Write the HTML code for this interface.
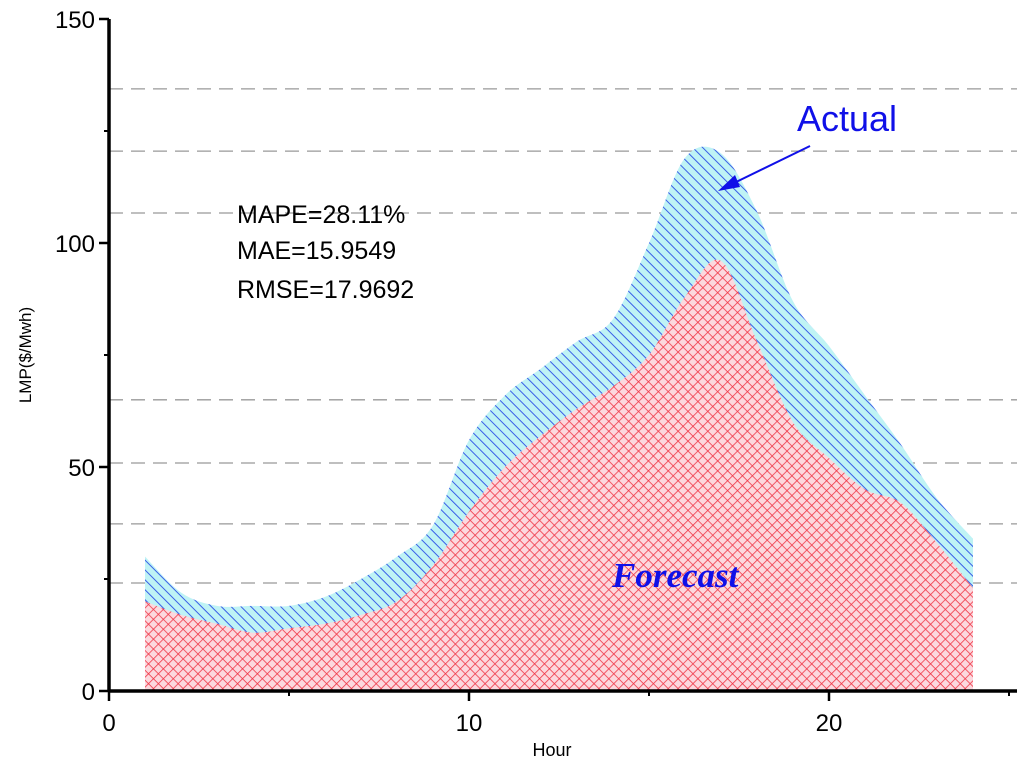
<!DOCTYPE html>
<html><head><meta charset="utf-8"><style>
body{margin:0;background:#fff;}
svg{display:block;font-family:"Liberation Sans",Arial,sans-serif;}
</style></head><body>
<svg id="chart" width="1024" height="766" viewBox="0 0 1024 766">
<defs>
<pattern id="hatchBlue" patternUnits="userSpaceOnUse" width="7" height="7" patternTransform="rotate(-45)">
<rect width="7" height="7" fill="#bff3f5"/>
<line x1="0" y1="0" x2="0" y2="7" stroke="#3a5ee8" stroke-width="2"/>
</pattern>
<pattern id="hatchRed" patternUnits="userSpaceOnUse" width="7" height="7" patternTransform="rotate(45)">
<rect width="7" height="7" fill="#fcd8de"/>
<line x1="0" y1="0" x2="0" y2="7" stroke="#f03848" stroke-width="1.6"/>
<line x1="0" y1="0" x2="7" y2="0" stroke="#f03848" stroke-width="1.6"/>
</pattern>
</defs>
<g id="grid"></g>
<g id="areas"></g>
<g id="axes"></g>
<text x="237" y="223" font-size="25">MAPE=28.11%</text>
<text x="237" y="259" font-size="25">MAE=15.9549</text>
<text x="237" y="298" font-size="25">RMSE=17.9692</text>
<text x="797" y="131" font-size="36" fill="#1010e8">Actual</text>
<line x1="810" y1="146" x2="732" y2="184" stroke="#1010e8" stroke-width="2"/>
<polygon points="718,191 735,175 740,187" fill="#1010e8"/>
<text x="612" y="587" font-size="35" font-weight="bold" font-style="italic" fill="#1010e8" font-family="Liberation Serif, serif">Forecast</text>
<text transform="translate(31,355) rotate(-90)" text-anchor="middle" font-size="17">LMP($/Mwh)</text>
<text x="552" y="756" text-anchor="middle" font-size="18">Hour</text>
</svg>
<script>
const hours=[1,2,3,4,5,6,7,8,9,10,11,12,13,14,15,16,17,18,19,20,21,22,23,24];
const actual=[30,22,19,19,19,21,25,30,37,56,66,72,78,83,100,119,120,107,87,77,66,55,43,34];
const forecast=[20,17,15,13,14,15,17,20,28,40,50,57,63,68,75,88,96,78,60,52,45,42,33,23];
const xTicks=[0,10,20];
const yTicks=[0,50,100,150];
const gridVals=[134.4,120.5,106.7,65,50.9,37.3,24.1];
const NS='http://www.w3.org/2000/svg';
const X0=109,XS=36,Y0=691,YS=4.48,RIGHT=1017;
const sx=v=>X0+v*XS, sy=v=>Y0-v*YS;
function mk(t,a,p){const e=document.createElementNS(NS,t);for(const k in a)e.setAttribute(k,a[k]);p.appendChild(e);return e;}
function smooth(vals){
  const pts=hours.map((h,i)=>[sx(h),sy(vals[i])]);
  let d=`M${pts[0][0]},${pts[0][1]}`;
  for(let i=0;i<pts.length-1;i++){
    const p0=pts[Math.max(0,i-1)],p1=pts[i],p2=pts[i+1],p3=pts[Math.min(pts.length-1,i+2)];
    const c1=[p1[0]+(p2[0]-p0[0])/6,p1[1]+(p2[1]-p0[1])/6];
    const c2=[p2[0]-(p3[0]-p1[0])/6,p2[1]-(p3[1]-p1[1])/6];
    d+=`C${c1[0]},${c1[1]} ${c2[0]},${c2[1]} ${p2[0]},${p2[1]}`;
  }
  return d+`L${sx(hours[hours.length-1])},${sy(0)}L${sx(hours[0])},${sy(0)}Z`;
}
const grid=document.getElementById('grid');
gridVals.forEach(v=>{
  const l=mk('line',{x1:X0,x2:RIGHT,y1:sy(v),y2:sy(v),stroke:'#999','stroke-width':1.3,'stroke-dasharray':'14,8'},grid);
  
  
});
const areas=document.getElementById('areas');
const a=mk('path',{d:smooth(actual),fill:'url(#hatchBlue)'},areas);


const f=mk('path',{d:smooth(forecast),fill:'url(#hatchRed)'},areas);


const ax=document.getElementById('axes');
mk('line',{x1:X0,x2:X0,y1:sy(150),y2:Y0+1,stroke:'#000','stroke-width':3.5},ax);
mk('line',{x1:X0-1,x2:RIGHT,y1:Y0,y2:Y0,stroke:'#000','stroke-width':3.5},ax);
yTicks.forEach(v=>{
  mk('line',{x1:X0-10,x2:X0,y1:sy(v),y2:sy(v),stroke:'#000','stroke-width':2.5},ax);
  if(v<150) mk('line',{x1:X0-5,x2:X0,y1:sy(v+25),y2:sy(v+25),stroke:'#000','stroke-width':2},ax);
  const t=mk('text',{x:X0-14,y:sy(v)+9,'text-anchor':'end','font-size':24},ax);
  t.textContent=v;
  
  
});
xTicks.forEach(v=>{
  mk('line',{x1:sx(v),x2:sx(v),y1:Y0,y2:Y0+10,stroke:'#000','stroke-width':2.5},ax);
  mk('line',{x1:sx(v+5),x2:sx(v+5),y1:Y0,y2:Y0+5,stroke:'#000','stroke-width':2},ax);
  const t=mk('text',{x:sx(v),y:Y0+40,'text-anchor':'middle','font-size':24},ax);
  t.textContent=v;
  
  
});
</script>
</body></html>
